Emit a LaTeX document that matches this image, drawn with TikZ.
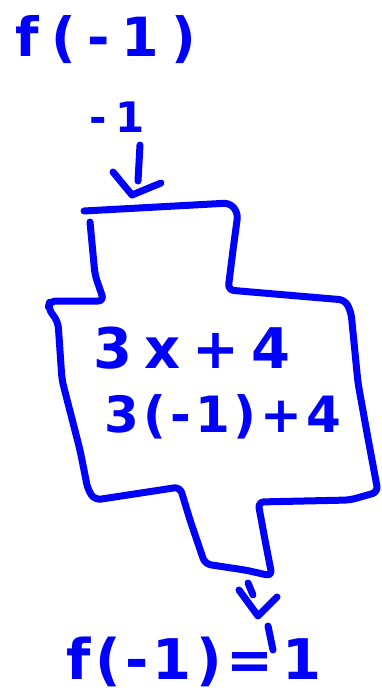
\documentclass[tikz,border=0pt]{standalone}
\usepackage{fontspec}
\setmainfont{DejaVu Sans}
\newfontfamily\handA[LetterSpace=22]{DejaVu Sans}
\newfontfamily\handB[LetterSpace=8]{DejaVu Sans}
\definecolor{inkblue}{RGB}{0,0,255}
\begin{document}
\begin{tikzpicture}[x=1pt,y=-1pt,
  pen/.style={draw=inkblue, line width=7pt, line cap=round, line join=round},
  lbl/.style={text=inkblue, inner sep=0pt, anchor=center}]
\useasboundingbox (0,0) rectangle (382,698);
% texts
\node[lbl, font=\handA\bfseries\fontsize{54}{54}\selectfont] (fin) at (106,40) {f(-1)};
\node[lbl, font=\handA\bfseries\fontsize{42}{42}\selectfont] (xin) at (117,117) {-1};
\node[lbl, font=\handA\bfseries\fontsize{56}{56}\selectfont] (rule) at (192,348) {3x+4};
\node[lbl, font=\handB\bfseries\fontsize{50}{50}\selectfont] (subst) at (223,417) {3(-1)+4};
\node[lbl, font=\handB\bfseries\fontsize{56}{56}\selectfont] (fout) at (194,662) {f(-1)=\,1};
% machine outline
\draw[pen, rounded corners=6pt] (84,211) -- (230,203) -- (238,213) -- (233,250) -- (228,290) -- (345,300) -- (351,312) -- (358,383) -- (367,433) -- (378,492) -- (350,500) -- (258,502) -- (265,540) -- (272,576) -- (245,570) -- (205,564) -- (190,520) -- (180,487) -- (95,500) -- (88,490) -- (80,450) -- (62,380) -- (58,322) -- (48,308) -- (50,301) -- (104,301) -- (95,275) -- (90,222);
% top arrow
\coordinate (a1s) at (140,145);
\coordinate (a1e) at (138,181);
\coordinate (a1l) at (113,172);
\coordinate (a1t) at (132,195);
\coordinate (a1r) at (161,183);
\draw[pen] (a1s) -- (a1e);
\draw[pen] (a1l) -- (a1t) -- (a1r);
% bottom arrow
\coordinate (a2s) at (248,583);
\coordinate (a2e) at (253,595);
\coordinate (a2l) at (239,590);
\coordinate (a2t) at (258,616);
\coordinate (a2r) at (277,597);
\coordinate (a3s) at (268,626);
\coordinate (a3e) at (273,650);
\draw[pen] (a2s) -- (a2e);
\draw[pen] (a2l) -- (a2t) -- (a2r);
\draw[pen] (a3s) -- (a3e);
\end{tikzpicture}
\end{document}
